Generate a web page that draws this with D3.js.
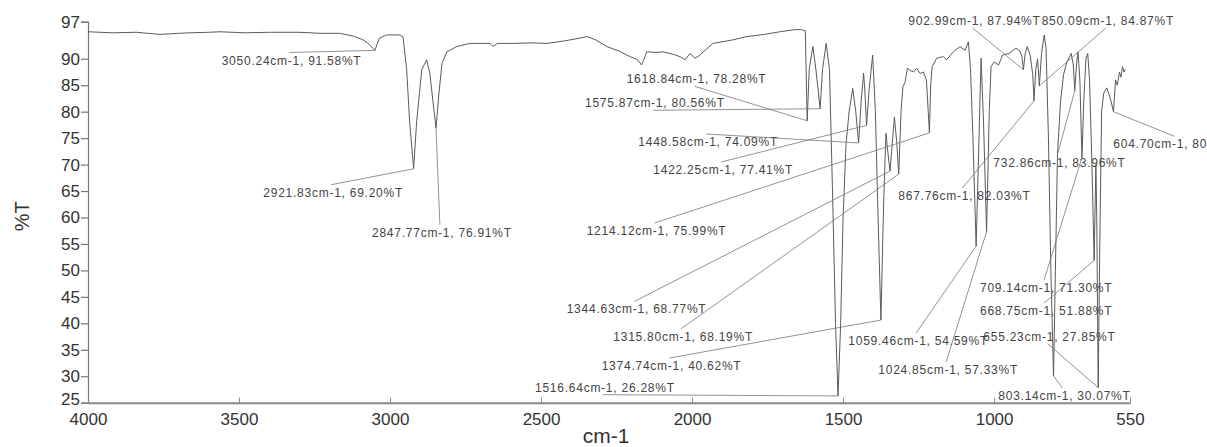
<!DOCTYPE html>
<html>
<head>
<meta charset="utf-8">
<script src="https://cdn.jsdelivr.net/npm/d3@7"></script>
<style>
    body { margin: 0; background: #fff; }
    svg { display: block; font-family: "Liberation Sans", Arial, sans-serif; }
    .axis text { font-size: 17px; fill: #333; }
    .peak-label { font-size: 12px; letter-spacing: 0.75px; fill: #444; }
</style>
</head>
<body>
<div id="chart"></div>
<script>
// IR spectrum (wavenumber cm-1, %T)
const specWn = [4000, 3920, 3840, 3762, 3700, 3662, 3600, 3563, 3480, 3400, 3298, 3230, 3166, 3123, 3090, 3070,
    3050.24, 3035, 3011, 2967, 2957, 2945, 2935, 2921.83, 2912, 2895, 2879, 2868, 2858, 2847.77, 2838, 2828,
    2812, 2779, 2735, 2669, 2659, 2645, 2593, 2530, 2480, 2420, 2371, 2348, 2320, 2282, 2240, 2205, 2180, 2167,
    2150, 2120, 2096, 2060, 2040, 2023, 2007, 1990, 1974, 1931, 1870, 1818, 1760, 1709, 1660, 1640, 1625,
    1618.84, 1612, 1600, 1590, 1575.87, 1568, 1556, 1545, 1535, 1525, 1516.64, 1508, 1500, 1490, 1480, 1468,
    1458, 1448.58, 1440, 1432, 1428, 1422.25, 1414, 1402, 1393, 1384, 1374.74, 1366, 1358, 1351, 1344.63, 1337,
    1330, 1322, 1315.80, 1308, 1302, 1295, 1287, 1278, 1267, 1256, 1245, 1234, 1224, 1218, 1214.12, 1210, 1205,
    1190, 1168, 1157, 1135, 1113, 1096, 1085, 1078, 1070, 1059.46, 1050, 1043, 1035, 1024.85, 1016, 1010, 1000,
    985, 972, 950, 928, 915, 908, 902.99, 897, 890, 880, 872, 867.76, 862, 856, 850.09, 843, 834, 828, 820, 812,
    803.14, 797, 790, 780, 770, 760, 745, 738, 732.86, 727, 722, 716, 709.14, 703, 696, 690, 684, 676, 668.75,
    663, 660, 655.23, 650, 644, 637, 627, 615, 604.70, 598, 592, 585, 580, 575, 570, 566];
const specT = [95.1, 94.9, 95.0, 94.6, 94.8, 94.9, 95.0, 95.1, 94.9, 95.0, 95.0, 94.8, 94.8, 94.3, 93.6, 92.8,
    91.58, 93.9, 94.5, 94.5, 94.1, 88.0, 78.0, 69.20, 78.0, 87.9, 89.8, 87.2, 82.0, 76.91, 83.5, 89.1,
    91.3, 92.3, 92.9, 92.9, 92.3, 92.9, 92.9, 93.0, 92.9, 93.4, 93.9, 94.2, 93.6, 92.3, 91.4, 90.4, 89.8, 88.8,
    91.3, 91.2, 91.3, 90.8, 90.4, 89.8, 91.0, 90.1, 90.7, 92.9, 93.5, 94.2, 94.6, 95.1, 95.5, 95.5, 95.3,
    78.28, 88.0, 92.3, 88.0, 80.56, 88.0, 92.9, 88.0, 65.0, 40.0, 26.28, 40.0, 60.0, 74.0, 80.0, 84.4,
    80.0, 74.09, 82.0, 87.3, 84.0, 77.41, 84.0, 90.7, 80.0, 60.0, 40.62, 62.0, 75.9, 72.0, 68.77, 74.0,
    79.0, 74.0, 68.19, 80.0, 84.7, 85.5, 88.2, 87.8, 87.5, 88.2, 87.2, 87.5, 86.0, 80.0, 75.99, 85.0, 88.5,
    90.1, 90.4, 89.8, 91.3, 92.3, 91.6, 93.2, 88.0, 75.0, 54.59, 75.0, 90.1, 78.0, 57.33, 80.0, 88.5, 89.4,
    88.8, 90.7, 91.0, 92.0, 91.5, 90.5, 87.94, 91.0, 92.3, 90.5, 87.0, 82.03, 88.0, 90.0, 84.87, 91.0, 94.5, 92.0, 75.0, 50.0,
    30.07, 50.0, 72.0, 82.0, 87.0, 89.2, 91.0, 89.0, 83.96, 89.0, 91.3, 86.0, 71.30, 82.0, 90.0, 91.0, 86.0, 70.0, 51.88,
    70.0, 60.0, 27.85, 55.0, 80.0, 83.5, 84.5, 82.5, 80.0, 86.0, 85.0, 87.5, 86.5, 88.5, 87.5, 88.0];

// annotated peaks
const peakWn = [3050.24, 2921.83, 2847.77, 1618.84, 1575.87, 1516.64, 1448.58, 1422.25, 1374.74, 1344.63,
    1315.80, 1214.12, 1059.46, 1024.85, 902.99, 867.76, 850.09, 803.14, 732.86, 709.14, 668.75, 655.23, 604.70];
const peakT = [91.58, 69.20, 76.91, 78.28, 80.56, 26.28, 74.09, 77.41, 40.62, 68.77,
    68.19, 75.99, 54.59, 57.33, 87.94, 82.03, 84.87, 30.07, 83.96, 71.30, 51.88, 27.85, 80];
const peakLabels = ["3050.24cm-1, 91.58%T", "2921.83cm-1, 69.20%T", "2847.77cm-1, 76.91%T",
    "1618.84cm-1, 78.28%T", "1575.87cm-1, 80.56%T", "1516.64cm-1, 26.28%T", "1448.58cm-1, 74.09%T",
    "1422.25cm-1, 77.41%T", "1374.74cm-1, 40.62%T", "1344.63cm-1, 68.77%T", "1315.80cm-1, 68.19%T",
    "1214.12cm-1, 75.99%T", "1059.46cm-1, 54.59%T", "1024.85cm-1, 57.33%T", "902.99cm-1, 87.94%T",
    "867.76cm-1, 82.03%T", "850.09cm-1, 84.87%T", "803.14cm-1, 30.07%T", "732.86cm-1, 83.96%T",
    "709.14cm-1, 71.30%T", "668.75cm-1, 51.88%T", "655.23cm-1, 27.85%T", "604.70cm-1, 80"];

const xTicks = [4000, 3500, 3000, 2500, 2000, 1500, 1000, 550];
const yTicks = [25, 30, 35, 40, 45, 50, 55, 60, 65, 70, 75, 80, 85, 90, 97];

// where each label text sits (left x, baseline y), layout only
const labelSpots = [[221.7, 64.5], [263.3, 196.7], [372, 236.7], [626.7, 83.3], [585, 107.3], [535, 391.7],
    [638.3, 146], [653.3, 174], [601.7, 370], [566.7, 313.3], [613.3, 340.7], [586.7, 235], [848.3, 345],
    [878.3, 374], [908.3, 25], [898.3, 200], [1041.7, 25], [998.3, 400], [993.3, 166.7], [980, 291.7],
    [980, 315], [983.3, 340.7], [1113.3, 148.3]];

const width = 1207;
const height = 447;

const svg = d3.select("#chart").append("svg")
    .attr("width", width)
    .attr("height", height);

const x = d3.scaleLinear().domain([4000, 550]).range([88, 1130]);
const y = d3.scaleLinear().domain([25, 97]).range([402.7, 21.7]);

// axes
const yAxis = svg.append("g")
    .attr("class", "axis")
    .attr("transform", `translate(${x(4000)},0)`)
    .call(d3.axisLeft(y).tickValues(yTicks).tickSize(7).tickPadding(1).tickFormat(d3.format("d")));
yAxis.selectAll("path, line").attr("stroke", "#777").attr("stroke-width", 1.2);
// the lowest label sits a touch high, clear of the 4000 below it
yAxis.selectAll(".tick text").filter(d => d === 25).attr("dy", "0.1em");

const xAxis = svg.append("g")
    .attr("class", "axis")
    .attr("transform", `translate(0,${y(25)})`)
    .call(d3.axisBottom(x).tickValues(xTicks).tickSizeInner(-5).tickSizeOuter(0).tickPadding(10).tickFormat(d3.format("d")));
xAxis.select("path").attr("stroke", "#888").attr("stroke-width", 2);
xAxis.selectAll("line").attr("stroke", "#888").attr("stroke-width", 1);

svg.append("text")
    .attr("transform", `translate(29,${(y(25) + y(97)) / 2 + 4}) rotate(-90)`)
    .attr("text-anchor", "middle")
    .attr("font-size", 20)
    .attr("fill", "#333")
    .text("%T");

svg.append("text")
    .attr("x", (x(4000) + x(550)) / 2 - 3)
    .attr("y", 443)
    .attr("text-anchor", "middle")
    .attr("font-size", 21)
    .attr("fill", "#333")
    .text("cm-1");

// spectrum
const spectrum = specWn.map((w, i) => ({ w: w, t: specT[i] }));
const line = d3.line().x(d => x(d.w)).y(d => y(d.t));

svg.append("path")
    .datum(spectrum)
    .attr("fill", "none")
    .attr("stroke", "#5a5a5a")
    .attr("stroke-width", 1)
    .attr("d", line);

// peak labels + leader lines
const peaks = peakWn.map((w, i) => ({ w: w, t: peakT[i], label: peakLabels[i], spot: labelSpots[i] }));

const labels = svg.append("g").selectAll("text")
    .data(peaks)
    .enter().append("text")
    .attr("class", "peak-label")
    .attr("x", d => d.spot[0])
    .attr("y", d => d.spot[1])
    .text(d => d.label);

labels.each(function(d) {
    const half = Math.max(this.getComputedTextLength() / 2, 63);
    const px = x(d.w), py = y(d.t);
    const ax = d.spot[0] + half - 2;
    const ay = py < d.spot[1] ? d.spot[1] - 12 : d.spot[1] + 3;
    svg.append("line")
        .attr("x1", ax).attr("y1", ay)
        .attr("x2", px).attr("y2", py)
        .attr("stroke", "#777")
        .attr("stroke-width", 0.8);
});
</script>
</body>
</html>
